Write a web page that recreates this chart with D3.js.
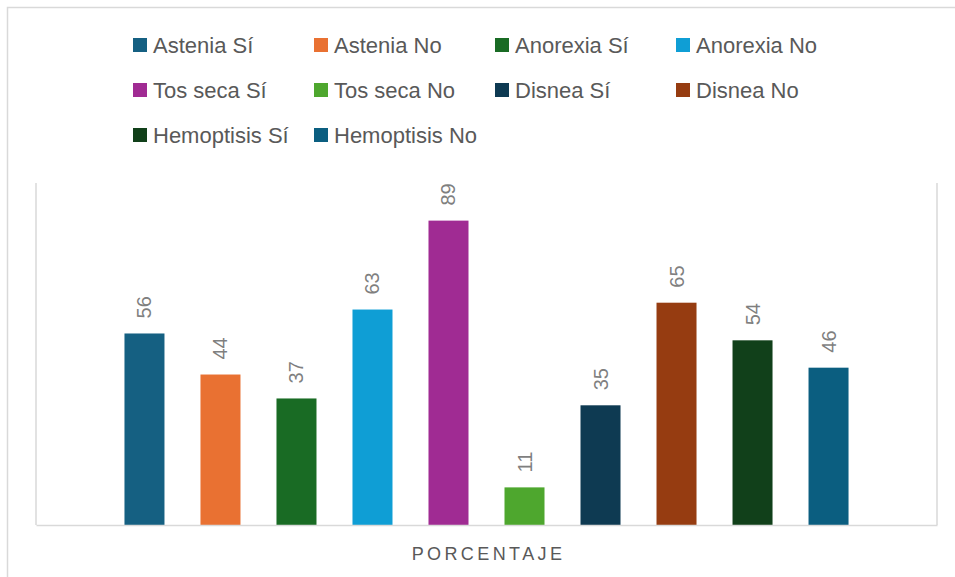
<!DOCTYPE html>
<html>
<head>
<meta charset="utf-8">
<script src="https://cdn.jsdelivr.net/npm/d3@7"></script>
<style>
  body { margin: 0; background: #fff; }
  svg { display: block; font-family: "Liberation Sans", Arial, sans-serif; }
</style>
</head>
<body>
<div id="chart"></div>
<script>
// data
const series = ["Astenia Sí", "Astenia No", "Anorexia Sí", "Anorexia No", "Tos seca Sí",
  "Tos seca No", "Disnea Sí", "Disnea No", "Hemoptisis Sí", "Hemoptisis No"];
const values = [56, 44, 37, 63, 89, 11, 35, 65, 54, 46];
const colors = ["#156082", "#E97132", "#196B24", "#0F9ED5", "#A02B93",
  "#4EA72E", "#0E3A52", "#963C11", "#11401A", "#0B5E80"];
const category = "PORCENTAJE";

const width = 955, height = 577;

const svg = d3.select("#chart")
  .append("svg")
  .attr("width", width)
  .attr("height", height);

// outer chart frame
svg.append("rect")
  .attr("x", 7.5).attr("y", 7.5)
  .attr("width", 960).attr("height", 600)
  .attr("fill", "none")
  .attr("stroke", "#d9d9d9")
  .attr("stroke-width", 1.5);

// plot area
const plot = { left: 36, right: 937, top: 183, bottom: 525 };

const x = d3.scaleBand()
  .domain(series)
  .range([plot.left, plot.right])
  .paddingInner(36 / 76)
  .paddingOuter(1.164);

const y = d3.scaleLinear()
  .domain([0, 100])
  .range([plot.bottom, plot.top]);

const color = d3.scaleOrdinal().domain(series).range(colors);

// plot borders (left, right, bottom)
const border = svg.append("g")
  .attr("stroke", "#d9d9d9")
  .attr("stroke-width", 1.5)
  .attr("fill", "none");
border.append("line")
  .attr("x1", plot.left).attr("x2", plot.left)
  .attr("y1", plot.top).attr("y2", plot.bottom);
border.append("line")
  .attr("x1", plot.right).attr("x2", plot.right)
  .attr("y1", plot.top).attr("y2", plot.bottom);

// bars
svg.append("g")
  .selectAll("rect")
  .data(series)
  .join("rect")
    .attr("x", d => x(d))
    .attr("y", (d, i) => y(values[i]))
    .attr("width", x.bandwidth())
    .attr("height", (d, i) => y(0) - y(values[i]))
    .attr("fill", d => color(d));

// x axis line on top of bars
svg.append("g")
  .attr("transform", `translate(0,${plot.bottom})`)
  .call(d3.axisBottom(d3.scaleLinear().range([plot.left, plot.right])).ticks(0).tickSizeOuter(0))
  .call(g => g.select(".domain").attr("stroke", "#d9d9d9").attr("stroke-width", 1.5));

// data labels, rotated
svg.append("g")
  .selectAll("text")
  .data(series)
  .join("text")
    .attr("transform", (d, i) =>
      `translate(${x(d) + x.bandwidth() / 2},${y(values[i]) - 15}) rotate(-90)`)
    .attr("dy", "0.35em")
    .attr("text-anchor", "start")
    .attr("font-size", 20)
    .attr("fill", "#7f7f7f")
    .text((d, i) => values[i]);

// category title
svg.append("text")
  .attr("x", (plot.left + plot.right) / 2 + 2)
  .attr("y", 560)
  .attr("text-anchor", "middle")
  .attr("font-size", 18)
  .attr("letter-spacing", "3.4px")
  .attr("fill", "#595959")
  .text(category);

// legend
const legend = svg.append("g")
  .selectAll("g")
  .data(series)
  .join("g")
    .attr("transform", (d, i) => `translate(${133 + (i % 4) * 181},${45 + Math.floor(i / 4) * 45})`);

legend.append("rect")
  .attr("x", 0).attr("y", -7)
  .attr("width", 14).attr("height", 14)
  .attr("fill", d => color(d));

legend.append("text")
  .attr("x", 20)
  .attr("dy", "0.35em")
  .attr("font-size", 22)
  .attr("fill", "#595959")
  .text(d => d);
</script>
</body>
</html>
